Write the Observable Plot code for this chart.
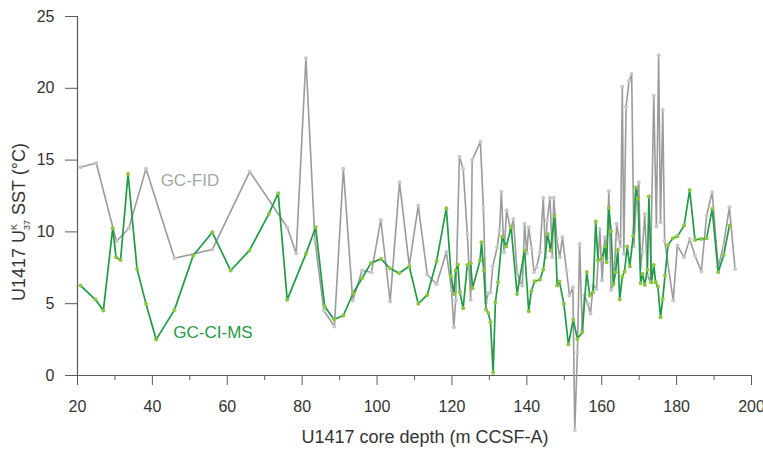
<!DOCTYPE html>
<html>
<head>
<meta charset="utf-8">
<script src="https://cdn.jsdelivr.net/npm/d3@7"></script>
<script src="https://cdn.jsdelivr.net/npm/@observablehq/plot@0.6"></script>
<style>
  html, body { margin: 0; padding: 0; background: #fff; }
  #chart { width: 763px; height: 450px; }
</style>
</head>
<body>
<div id="chart"></div>
<script>
// GC-FID series (depth m, SST °C)
const fidDepth = [20.8,25.0,30.4,33.7,38.3,45.9,56.0,66.0,76.0,78.4,81.0,83.4,85.8,88.6,91.0,93.5,96.0,98.5,101.0,103.5,106.0,108.6,111.0,113.4,115.9,118.5,119.9,120.5,121.0,122.0,123.0,124.1,125.0,125.4,127.6,128.4,129.1,129.7,130.3,130.9,132.1,132.7,133.2,133.9,134.6,135.7,136.4,137.4,138.1,138.8,139.4,140.0,140.5,141.3,141.9,142.6,143.5,144.4,145.0,145.4,146.2,146.8,147.2,148.0,148.8,149.5,150.6,151.4,152.3,152.8,153.5,154.1,154.8,155.4,156.3,157.0,157.7,158.6,159.5,160.1,160.8,161.3,161.9,162.5,163.2,164.0,164.6,165.0,165.5,165.9,166.5,167.3,168.0,168.6,169.3,169.9,170.4,170.8,171.5,172.2,173.0,173.9,174.6,175.2,175.7,176.3,176.8,179.1,180.2,182.0,183.5,184.9,186.6,188.0,189.5,191.1,192.5,194.1,195.6];
const fidSST = [14.5,14.8,9.35,10.25,14.4,8.16,8.77,14.2,10.32,8.5,22.1,9.44,4.52,3.41,14.4,5.22,7.31,7.19,10.83,5.15,13.45,7.65,11.83,7.03,6.35,8.6,5.92,3.36,5.22,15.24,14.38,9.86,5.27,15.0,16.28,11.67,5.1,5.73,5.8,7.61,8.93,10.09,12.8,8.58,11.5,10.09,10.9,7.19,6.61,6.26,10.56,8.5,10.32,8.82,7.19,7.54,8.58,12.37,8.2,10.79,12.37,8.23,12.37,9.5,8.23,9.62,7.31,5.57,6.15,-3.8,1.6,9.16,3.13,5.57,5.0,4.31,6.26,6.0,10.21,6.61,9.62,8.2,12.83,5.96,6.4,10.56,9.51,9.0,20.11,8.47,18.72,20.5,21.0,9.0,12.5,13.45,7.5,8.58,11.25,7.0,6.5,19.48,10.37,22.3,10.67,18.5,9.39,5.22,9.05,8.23,9.51,8.35,7.24,11.13,12.76,7.54,9.05,11.71,7.42];

// GC-CI-MS series (depth m, SST °C)
const cimsDepth = [20.8,24.8,26.9,29.4,30.3,31.5,33.5,35.9,38.3,41.0,45.9,50.9,56.0,60.9,65.9,71.1,73.6,76.0,81.0,83.6,86.0,88.5,91.0,93.6,96.0,98.4,101.1,103.4,105.9,108.6,111.0,113.4,115.9,118.5,119.8,120.5,121.0,121.6,122.1,123.0,124.1,125.0,125.5,127.5,127.9,128.5,129.1,129.7,130.3,131.0,131.6,132.3,133.4,134.5,135.8,137.4,139.4,140.5,141.2,142.1,143.5,144.4,145.6,146.3,147.4,148.1,148.7,149.9,151.1,152.4,153.5,154.8,156.0,156.8,157.7,158.4,159.0,160.1,160.8,161.3,161.9,162.5,163.1,163.7,164.3,164.8,165.5,166.1,166.8,167.5,168.4,169.1,169.7,170.4,170.9,171.5,172.2,172.6,173.3,173.9,174.4,175.0,175.7,176.3,176.9,177.7,179.0,180.2,182.0,183.5,184.9,186.6,188.0,189.5,191.1,192.6,194.1];
const cimsSST = [6.26,5.29,4.52,10.25,8.23,8.05,14.03,7.42,4.99,2.5,4.57,8.35,9.97,7.31,8.7,11.25,12.7,5.27,8.47,10.32,4.83,3.9,4.18,5.73,6.77,7.84,8.12,7.47,7.12,7.61,4.99,5.61,7.96,11.65,6.91,5.68,7.31,7.72,5.8,4.69,7.7,7.82,6.08,8.0,9.28,7.31,4.59,4.36,3.71,0.19,5.1,6.49,9.67,8.98,10.32,5.68,8.7,4.47,5.87,6.56,6.68,7.38,9.86,8.7,11.13,6.26,6.54,4.99,2.16,3.88,2.55,3.01,7.2,5.57,5.8,10.72,8.0,8.19,8.98,7.88,11.67,10.04,6.33,7.19,8.75,5.29,6.89,7.24,8.98,7.59,9.74,13.1,12.3,6.42,7.07,6.31,7.36,12.46,6.49,7.7,6.49,6.19,4.06,5.33,6.96,9.09,9.55,9.69,10.44,12.92,9.44,9.51,9.55,11.6,7.19,8.4,10.44];

const xMajorTicks = [20,40,60,80,100,120,140,160,180,200];
const xMinorTicks = [30,50,70,90,110,130,150,170,190];
const yTicks = [0,5,10,15,20,25];
const seriesNames = ["GC-FID","GC-CI-MS"];
const seriesLabelX = [42.2, 45.6];
const seriesLabelY = [13.2, 2.64];

const fid = fidDepth.map((d,i) => ({depth: d, sst: fidSST[i]}));
const cims = cimsDepth.map((d,i) => ({depth: d, sst: cimsSST[i]}));
const labels = seriesNames.map((n,i) => ({name: n, x: seriesLabelX[i], y: seriesLabelY[i]}));

const gray = "#9b9b9b", grayDot = "#c8c8c8";
const green = "#1f9a46", greenDot = "#8cc63f";
const axisColor = "#5a5a5a";

const chart = Plot.plot({
  width: 763,
  height: 450,
  marginLeft: 77,
  marginRight: 12,
  marginTop: 16,
  marginBottom: 75,
  style: {fontFamily: "'Liberation Sans', Arial, sans-serif", fontSize: "16px", color: "#333", background: "#fff", overflow: "visible"},
  x: {domain: [20, 200], label: null},
  y: {domain: [0, 25], label: null},
  marks: [
    Plot.axisY({ticks: yTicks, tickSize: 12, tickPadding: 11, stroke: axisColor, strokeOpacity: 1, fill: "#333", fontSize: 16, label: null}),
    Plot.axisX({ticks: xMajorTicks, tickSize: 10, tickPadding: 15, stroke: axisColor, strokeOpacity: 1, fill: "#333", fontSize: 16, label: null}),
    Plot.axisX({ticks: xMinorTicks, tickSize: 5, tickFormat: () => "", stroke: axisColor, strokeOpacity: 1, label: null}),
    Plot.ruleY([0], {x1: 20, x2: 200, stroke: axisColor, strokeWidth: 1.2}),
    Plot.ruleX([20], {y1: 0, y2: 25, stroke: axisColor, strokeWidth: 1.2}),
    Plot.line(fid, {x: "depth", y: "sst", stroke: gray, strokeWidth: 1.6}),
    Plot.dot(fid, {x: "depth", y: "sst", r: 2, fill: grayDot, stroke: "none"}),
    Plot.line(cims, {x: "depth", y: "sst", stroke: green, strokeWidth: 1.7}),
    Plot.dot(cims, {x: "depth", y: "sst", r: 2, fill: greenDot, stroke: "none"}),
    Plot.text(labels, {x: "x", y: "y", text: "name", textAnchor: "start", lineAnchor: "bottom", fontSize: 17,
      fill: d => d.name === "GC-FID" ? "#a6a6a6" : "#1f9a46"})
  ]
});

const svg = d3.select(chart);
// x axis title
svg.append("text")
  .attr("x", 425).attr("y", 443)
  .attr("text-anchor", "middle")
  .attr("font-size", 18).attr("fill", "#333")
  .text("U1417 core depth (m CCSF-A)");
// y axis title with superscript/subscript
const yt = svg.append("text")
  .attr("transform", "translate(25,222) rotate(-90)")
  .attr("text-anchor", "middle")
  .attr("font-size", 18).attr("fill", "#333");
yt.append("tspan").text("U1417 U");
yt.append("tspan").attr("font-size", 9).attr("dy", -8).text("K");
yt.append("tspan").attr("font-size", 9).attr("dx", -6).attr("dy", 13).text("37");
yt.append("tspan").attr("dy", -5).text(" SST (°C)");

document.getElementById("chart").appendChild(chart);
</script>
</body>
</html>
